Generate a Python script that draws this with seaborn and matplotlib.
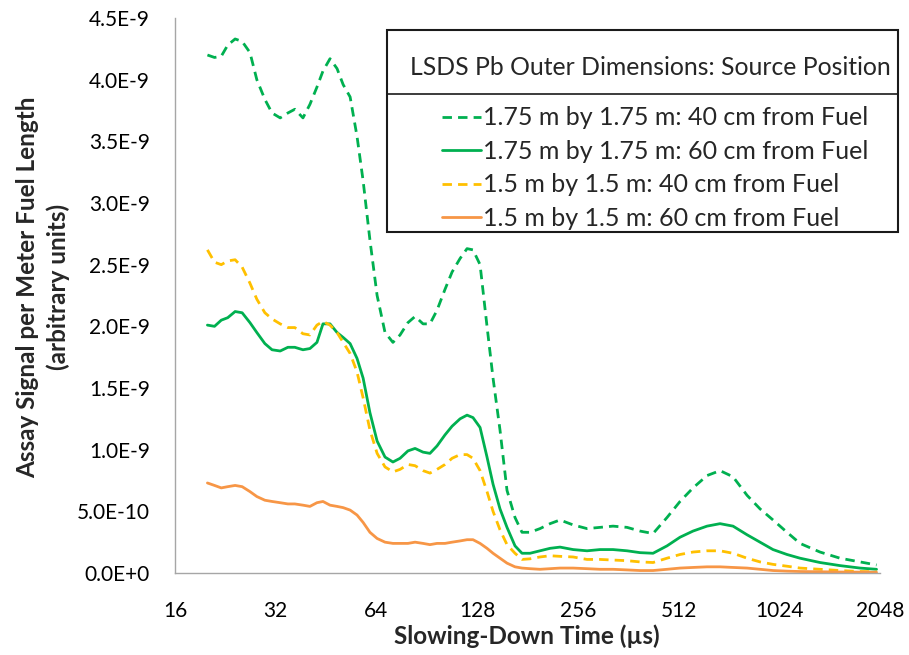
import numpy as np
import pandas as pd
import matplotlib
matplotlib.use("Agg")
import matplotlib.pyplot as plt
import seaborn as sns
from matplotlib.patches import Rectangle
from matplotlib.lines import Line2D

# ---------------- data ----------------
time_us = [20, 21, 22, 23, 24.2, 25.4, 26.8, 28.1, 29.7, 31.2, 33.0, 34.8, 36.5, 38.6,
           40.5, 42.5, 44.3, 46.5, 48.8, 50.9, 53.4, 56.0, 58.4, 61.2, 64.3, 67.9,
           71.7, 75.3, 79.5, 83.5, 88.2, 92.5, 97.1, 102.6, 107.7, 113.8, 119.4, 124.4,
           130.6, 137.0, 142.8, 149.8, 157.2, 166.1, 174.3, 184.2, 197.3, 211.4, 226.4,
           247.7, 272.7, 298.2, 326.1, 359.1, 392.7, 429.5, 472.9, 517.1, 565.6, 622.8,
           681.1, 744.8, 820.2, 896.9, 980.7, 1080, 1181, 1355, 1555, 1785, 2000]

sig_175_40 = [4.20, 4.18, 4.19, 4.28, 4.33, 4.31, 4.22, 4.00, 3.84, 3.73, 3.69, 3.73, 3.76, 3.69,
              3.80, 3.94, 4.07, 4.17, 4.09, 3.96, 3.86, 3.54, 3.18, 2.70, 2.25, 1.95,
              1.87, 1.93, 2.03, 2.08, 2.02, 2.02, 2.13, 2.30, 2.44, 2.55, 2.63, 2.62,
              2.50, 2.00, 1.58, 1.16, 0.67, 0.45, 0.33, 0.33, 0.36, 0.40, 0.43,
              0.39, 0.36, 0.37, 0.38, 0.37, 0.34, 0.32, 0.45, 0.58, 0.69, 0.79,
              0.83, 0.78, 0.63, 0.52, 0.43, 0.33, 0.24, 0.17, 0.12, 0.09, 0.065]

sig_175_60 = [2.01, 2.00, 2.05, 2.07, 2.12, 2.11, 2.03, 1.95, 1.86, 1.81, 1.80, 1.83, 1.83, 1.81,
              1.82, 1.87, 2.02, 2.02, 1.95, 1.91, 1.86, 1.74, 1.58, 1.30, 1.07, 0.94,
              0.90, 0.93, 0.99, 1.01, 0.98, 0.97, 1.03, 1.12, 1.19, 1.25, 1.28, 1.26,
              1.18, 0.94, 0.72, 0.52, 0.37, 0.22, 0.16, 0.16, 0.18, 0.20, 0.21,
              0.19, 0.18, 0.19, 0.19, 0.18, 0.165, 0.16, 0.22, 0.29, 0.34, 0.38,
              0.40, 0.38, 0.31, 0.25, 0.19, 0.15, 0.12, 0.085, 0.06, 0.04, 0.03]

sig_150_40 = [2.62, 2.52, 2.50, 2.53, 2.54, 2.48, 2.35, 2.22, 2.11, 2.06, 2.02, 1.99, 1.99, 1.94,
              1.93, 2.01, 2.04, 2.01, 1.95, 1.87, 1.78, 1.63, 1.42, 1.16, 0.97, 0.86,
              0.82, 0.84, 0.88, 0.87, 0.83, 0.81, 0.84, 0.88, 0.93, 0.96, 0.96, 0.93,
              0.83, 0.66, 0.50, 0.35, 0.23, 0.16, 0.11, 0.115, 0.13, 0.14, 0.135,
              0.13, 0.11, 0.11, 0.105, 0.10, 0.09, 0.085, 0.12, 0.15, 0.17, 0.18,
              0.18, 0.16, 0.12, 0.09, 0.07, 0.055, 0.04, 0.03, 0.02, 0.012, 0.01]

sig_150_60 = [0.73, 0.71, 0.69, 0.70, 0.71, 0.70, 0.66, 0.62, 0.59, 0.58, 0.57, 0.56, 0.56, 0.55,
              0.54, 0.57, 0.58, 0.55, 0.54, 0.53, 0.51, 0.47, 0.41, 0.33, 0.28, 0.25,
              0.24, 0.24, 0.24, 0.25, 0.24, 0.23, 0.24, 0.24, 0.25, 0.26, 0.27, 0.27,
              0.24, 0.20, 0.16, 0.12, 0.08, 0.05, 0.04, 0.035, 0.03, 0.035, 0.04,
              0.04, 0.035, 0.03, 0.03, 0.025, 0.02, 0.02, 0.03, 0.04, 0.045, 0.05,
              0.05, 0.045, 0.04, 0.03, 0.02, 0.015, 0.012, 0.01, 0.008, 0.007, 0.006]

series_labels = ["1.75 m by 1.75 m: 40 cm from Fuel",
                 "1.75 m by 1.75 m: 60 cm from Fuel",
                 "1.5 m by 1.5 m: 40 cm from Fuel",
                 "1.5 m by 1.5 m: 60 cm from Fuel"]
legend_title = "LSDS Pb Outer Dimensions: Source Position"

x_ticks = [16, 32, 64, 128, 256, 512, 1024, 2048]
y_ticks = [0.0, 0.5e-9, 1.0e-9, 1.5e-9, 2.0e-9, 2.5e-9, 3.0e-9, 3.5e-9, 4.0e-9, 4.5e-9]
y_tick_labels = ["0.0E+0", "5.0E-10", "1.0E-9", "1.5E-9", "2.0E-9",
                 "2.5E-9", "3.0E-9", "3.5E-9", "4.0E-9", "4.5E-9"]
x_label = "Slowing-Down Time (µs)"
y_label = "Assay Signal per Meter Fuel Length\n(arbitrary units)"

# ---------------- style ----------------
sns.set_style("white")
plt.rcParams["font.family"] = ["Lato", "DejaVu Sans"]

colors = ["#00B050", "#00B050", "#FFC000", "#F79646"]
dashed = [True, False, True, False]
all_series = [sig_175_40, sig_175_60, sig_150_40, sig_150_60]

W, H = 909, 655
fig = plt.figure(figsize=(W / 100, H / 100), dpi=100)
ax = fig.add_axes([175 / W, 1 - 573 / H, 705 / W, 555 / H])

for vals, lab, col, dsh in zip(all_series, series_labels, colors, dashed):
    df = pd.DataFrame({"t": time_us, "v": np.array(vals) * 1e-9})
    kw = dict(dashes=(3.4, 2.2)) if dsh else {}
    sns.lineplot(data=df, x="t", y="v", ax=ax, color=col, linewidth=2.0,
                 label=lab, legend=False, **kw)

ax.set_xscale("log", base=2)
ax.set_xlim(16, 2048)
ax.set_ylim(0, 4.5e-9)
ax.set_xticks(x_ticks)
ax.set_xticklabels([str(v) for v in x_ticks])
ax.xaxis.set_minor_locator(matplotlib.ticker.NullLocator())
ax.set_yticks(y_ticks)
ax.set_yticklabels(y_tick_labels)
ax.set_xlabel("")
ax.set_ylabel("")

for s in ["top", "right"]:
    ax.spines[s].set_visible(False)
for s in ["left", "bottom"]:
    ax.spines[s].set_color("#A6A6A6")
    ax.spines[s].set_linewidth(1.0)
ax.tick_params(axis="both", which="major", direction="out", length=7, width=1.0,
               color="#A6A6A6", labelsize=15, labelcolor="#000000")
ax.tick_params(axis="y", pad=11)
ax.tick_params(axis="x", pad=13)

fig.text(527 / W, 1 - 636 / H, x_label, ha="center", va="center",
         fontsize=17.5, fontweight="bold")
fig.text(43 / W, 1 - 287 / H, y_label, ha="center", va="center", rotation=90,
         fontsize=17.5, fontweight="bold", linespacing=1.4, multialignment="center")

# legend box
fig.patches.append(Rectangle((387 / W, 1 - 232 / H), (898 - 387) / W, (232 - 30) / H,
                             transform=fig.transFigure, facecolor="white",
                             edgecolor="#1a1a1a", linewidth=1.5, zorder=2))
fig.lines.append(Line2D([387 / W, 898 / W], [1 - 94 / H, 1 - 94 / H],
                        transform=fig.transFigure, color="#1a1a1a", linewidth=1.2, zorder=3))
fig.text(650 / W, 1 - 75 / H, legend_title, ha="center", va="baseline",
         fontsize=17.8, zorder=4)

handles = ax.get_lines()[:4]
leg = fig.legend(handles, series_labels, loc="center left",
                 bbox_to_anchor=(442 / W, 1 - 168 / H), bbox_transform=fig.transFigure,
                 frameon=False, fontsize=18, handlelength=1.55, handletextpad=0.08,
                 labelspacing=0.42, borderpad=0, borderaxespad=0)
leg.set_zorder(5)

fig.savefig("out.png", dpi=100)
